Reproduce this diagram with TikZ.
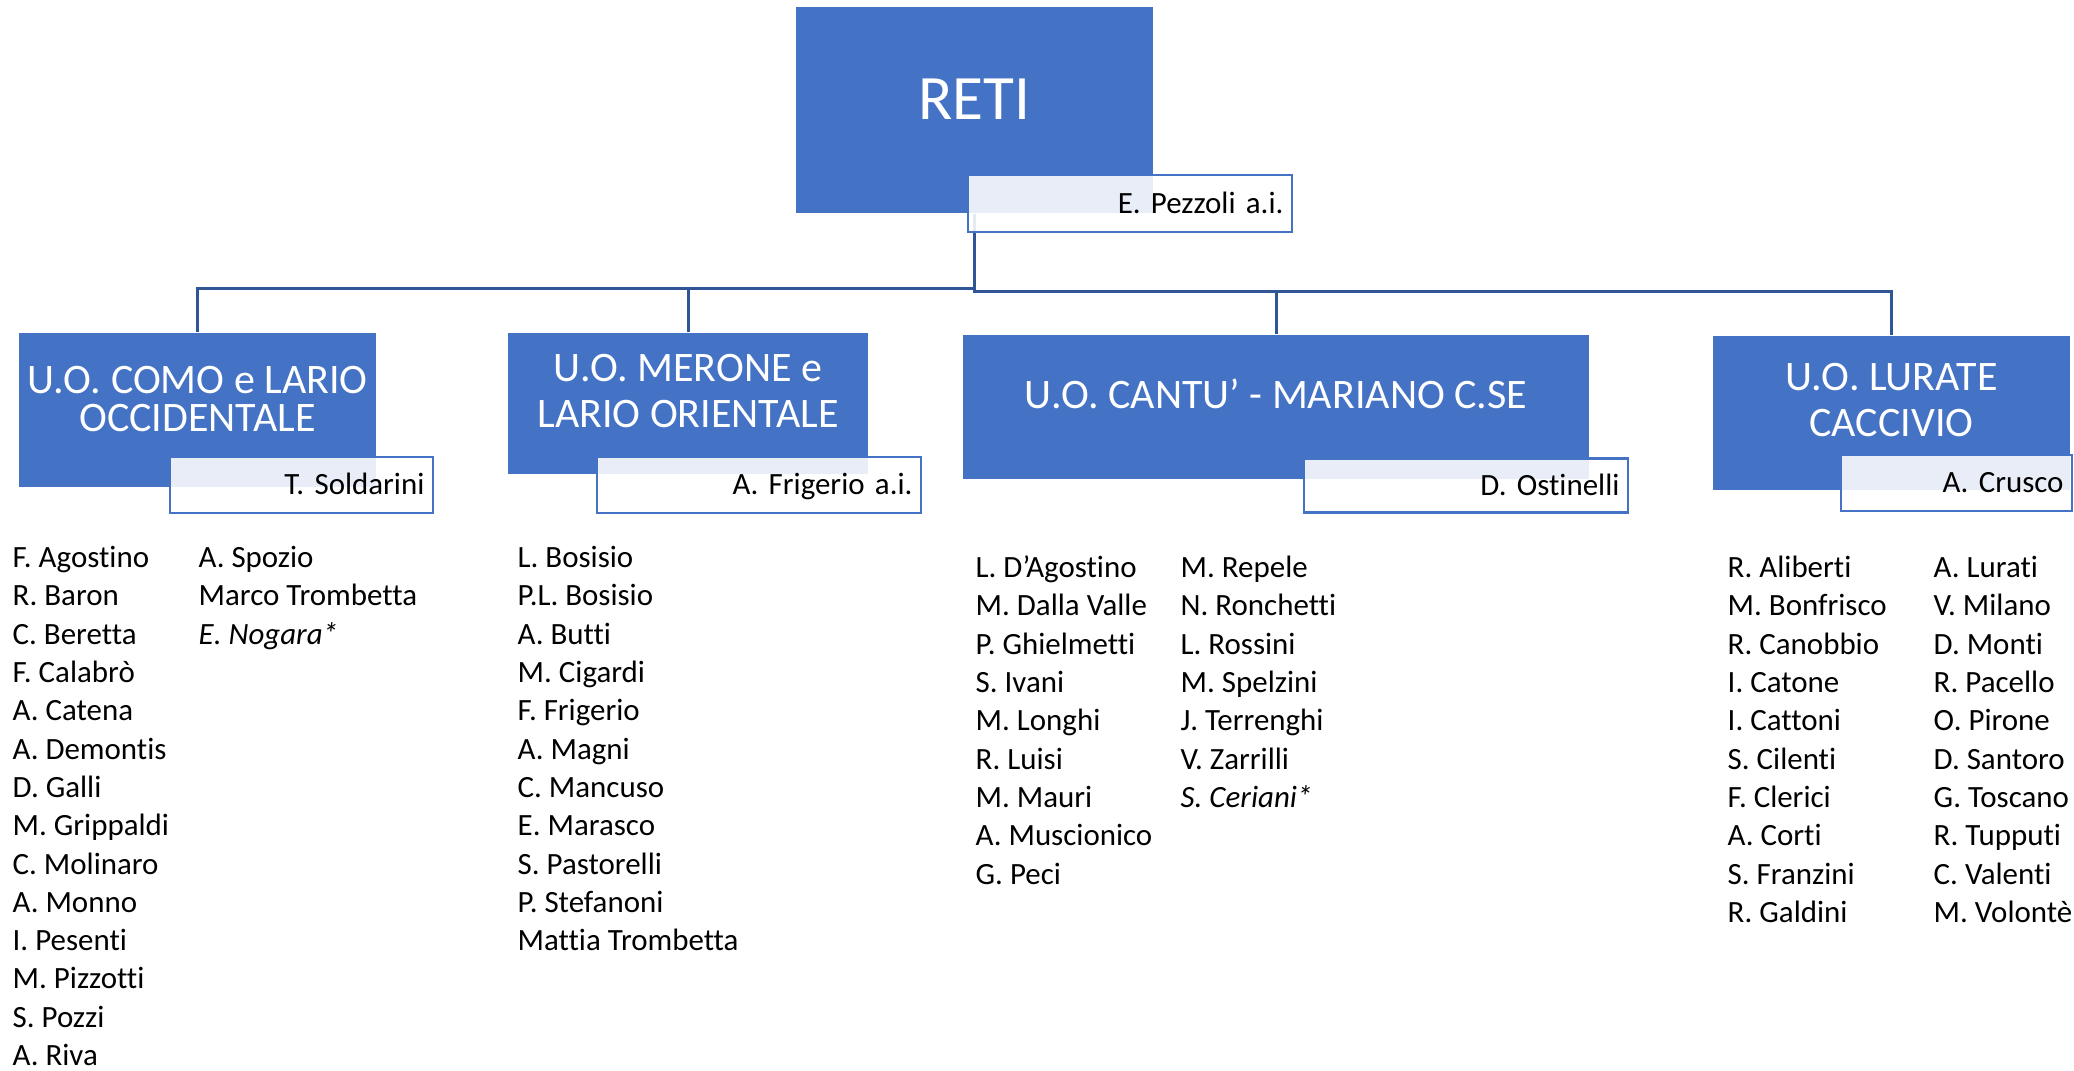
\documentclass[tikz,border=0pt]{standalone}
\usepackage{fontspec}
\setmainfont{Carlito}[Ligatures={NoCommon,NoContextual}]
\frenchspacing

\definecolor{unitblue}{HTML}{4472C4}
\definecolor{linkblue}{HTML}{2F5597}

\newcommand{\namefont}{\fontsize{8.8}{10.9}\selectfont}

\begin{document}
\begin{tikzpicture}[x=1mm, y=-1mm,
    unit/.style={fill=unitblue, inner sep=0pt},
    title/.style={align=center, text=white, inner sep=0pt},
    namebox/.style={draw=unitblue, line width=0.7pt, fill=white, fill opacity=0.88, text opacity=1,
        inner xsep=0.85mm, inner ysep=0pt, align=right, text height=1.96mm, text depth=0pt, font=\namefont},
    staff/.style={anchor=north west, align=left, inner sep=0pt, font=\namefont},
    link/.style={draw=linkblue, line width=0.85pt}]
    % page size
    \useasboundingbox (0,0) rectangle (207.4,107);
    % the blue boxes
    \node[unit, minimum width=35.7mm, minimum height=20.6mm] (reti) at (97.45,11) {};
    \node[unit, minimum width=35.7mm, minimum height=15.4mm] (como) at (19.75,41) {};
    \node[unit, minimum width=36mm, minimum height=14.1mm] (merone) at (68.8,40.35) {};
    \node[unit, minimum width=62.6mm, minimum height=14.4mm] (cantu) at (127.6,40.7) {};
    \node[unit, minimum width=35.7mm, minimum height=15.4mm] (lurate) at (189.15,41.3) {};
    % titles
    \node[title, font=\fontsize{18}{21}\selectfont] (reti-t) at (97.4,9.9) {RETI};
    \node[title, font=\fontsize{11.95}{10.8}\selectfont] (como-t) at (19.75,39.9) {U.O. COMO e LARIO\\OCCIDENTALE};
    \node[title, font=\fontsize{11.95}{13.1}\selectfont] (merone-t) at (68.8,39.1) {U.O. MERONE e\\LARIO ORIENTALE};
    \node[title, font=\fontsize{11.95}{13.1}\selectfont] (cantu-t) at (127.6,39.4) {U.O. CANTU’ - MARIANO C.SE};
    \node[title, font=\fontsize{11.95}{13.3}\selectfont] (lurate-t) at (189.15,40) {U.O. LURATE\\CACCIVIO};
    % links
    \draw[link] (reti.south) -- ++(0,7.5) -| (como.north);
    \draw[link] (reti.south) -- ++(0,7.5) -| (merone.north);
    \draw[link] (reti.south) -- ++(0,7.8) -| (cantu.north);
    \draw[link] (reti.south) -- ++(0,7.8) -| (lurate.north);
    % heads
    \node[namebox, text width=30.7mm, minimum height=5.7mm] (pezzoli) at (113,20.35) {E. Pezzoli a.i.};
    \node[namebox, text width=24.6mm, minimum height=5.6mm] (soldarini) at (30.15,48.5) {T. Soldarini};
    \node[namebox, text width=30.7mm, minimum height=5.6mm] (frigerio) at (75.9,48.5) {A. Frigerio a.i.};
    \node[namebox, text width=30.7mm, minimum height=5.4mm] (ostinelli) at (146.6,48.55) {D. Ostinelli};
    \node[namebox, text width=21.4mm, minimum height=5.6mm] (crusco) at (195.65,48.3) {A. Crusco};
    % staff lists
    \node[staff] (como-a) at (1.2,54) {\strut F. Agostino\\R. Baron\\C. Beretta\\F. Calabrò\\A. Catena\\A. Demontis\\D. Galli\\M. Grippaldi\\C. Molinaro\\A. Monno\\I. Pesenti\\M. Pizzotti\\S. Pozzi\\A. Riva};
    \node[staff] (como-b) at (19.8,54) {\strut A. Spozio\\Marco Trombetta\\\textit{E. Nogara*}};
    \node[staff] (merone-a) at (51.7,54) {\strut L. Bosisio\\P.L. Bosisio\\A. Butti\\M. Cigardi\\F. Frigerio\\A. Magni\\C. Mancuso\\E. Marasco\\S. Pastorelli\\P. Stefanoni\\Mattia Trombetta};
    \node[staff] (cantu-a) at (97.5,55) {\strut L. D’Agostino\\M. Dalla Valle\\P. Ghielmetti\\S. Ivani\\M. Longhi\\R. Luisi\\M. Mauri\\A. Muscionico\\G. Peci};
    \node[staff] (cantu-b) at (118,55) {\strut M. Repele\\N. Ronchetti\\L. Rossini\\M. Spelzini\\J. Terrenghi\\V. Zarrilli\\\textit{S. Ceriani*}};
    \node[staff] (lurate-a) at (172.7,55) {\strut R. Aliberti\\M. Bonfrisco\\R. Canobbio\\I. Catone\\I. Cattoni\\S. Cilenti\\F. Clerici\\A. Corti\\S. Franzini\\R. Galdini};
    \node[staff] (lurate-b) at (193.3,55) {\strut A. Lurati\\V. Milano\\D. Monti\\R. Pacello\\O. Pirone\\D. Santoro\\G. Toscano\\R. Tupputi\\C. Valenti\\M. Volontè};
\end{tikzpicture}
\end{document}
